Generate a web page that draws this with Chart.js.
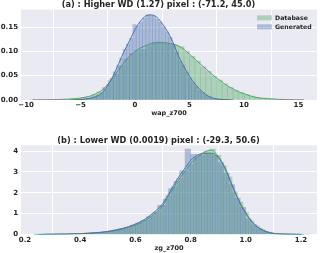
<!DOCTYPE html>
<html><head><meta charset="utf-8">
<script src="https://cdn.jsdelivr.net/npm/chart.js@4.4.1/dist/chart.umd.min.js"></script>
<style>
html,body{margin:0;padding:0;background:#fff;}
#wrap{position:relative;width:320px;height:253px;overflow:hidden;}
canvas{position:absolute;left:0;}
#ca{top:0;} #cb{top:126px;}
</style></head><body>
<div id="wrap"><canvas id="ca" width="320" height="126"></canvas><canvas id="cb" width="320" height="127"></canvas></div>
<script>
// ---------- Panel (a) data ----------
const titleA = '(a) : Higher WD (1.27) pixel : (-71.2, 45.0)';
const xLabelA = 'wap_z700';
const xTicksA = [-10, -5, 0, 5, 10, 15];
const xTickLabelsA = ['\u221210', '\u22125', '0', '5', '10', '15'];
const yTicksA = [0, 0.05, 0.10, 0.15];
const yTickLabelsA = ['0.00', '0.05', '0.10', '0.15'];
const dbBinsA = [-9.25,-8.75,-8.25,-7.75,-7.25,-6.75,-6.25,-5.75,-5.25,-4.75,-4.25,-3.75,-3.25,-2.75,-2.25,-1.75,-1.25,-0.75,-0.25,0.25,0.75,1.25,1.75,2.25,2.75,3.25,3.75,4.25,4.75,5.25,5.75,6.25,6.75,7.25,7.75,8.25,8.75,9.25,9.75,10.25,10.75,11.25,11.75,12.25,12.75,13.25,13.75,14.25,14.75,15.25];
const dbHistA = [0.0003,0.0004,0.0005,0.0006,0.0008,0.0011,0.0015,0.002,0.003,0.005,0.007,0.011,0.017,0.026,0.040,0.053,0.070,0.084,0.096,0.102,0.104,0.112,0.118,0.119,0.117,0.116,0.113,0.110,0.100,0.090,0.080,0.068,0.059,0.049,0.041,0.033,0.026,0.020,0.015,0.011,0.008,0.005,0.0035,0.0025,0.0018,0.0012,0.0008,0.0005,0.0003,0.0002];
const genBinsA = [-5.45,-5.15,-4.85,-4.55,-4.25,-3.95,-3.65,-3.35,-3.05,-2.75,-2.45,-2.15,-1.85,-1.55,-1.25,-0.95,-0.65,-0.35,-0.05,0.25,0.55,0.85,1.15,1.45,1.75,2.05,2.35,2.65,2.95,3.25,3.55,3.85,4.15,4.45,4.75,5.05,5.35,5.65,5.95,6.25,6.55,6.85,7.15,7.45,7.75,8.05,8.35,8.65];
const genHistA = [0.0005,0.001,0.0015,0.002,0.003,0.004,0.007,0.010,0.015,0.022,0.032,0.044,0.058,0.070,0.086,0.104,0.115,0.127,0.155,0.152,0.160,0.168,0.175,0.174,0.173,0.166,0.160,0.150,0.140,0.129,0.114,0.098,0.080,0.072,0.058,0.045,0.036,0.028,0.020,0.015,0.010,0.007,0.004,0.003,0.002,0.001,0.0007,0.0004];
const dbKdeXA = [-9.4,-8,-7,-6,-5,-4.5,-4,-3.5,-3,-2.5,-2,-1.5,-1,-0.5,0,0.5,1,1.5,2,2.5,3,3.5,4,4.5,5,5.5,6,6.5,7,7.5,8,8.5,9,9.5,10,10.5,11,11.5,12,13,14,15,15.5];
const dbKdeYA = [0.000,0.0005,0.001,0.002,0.004,0.006,0.009,0.014,0.021,0.032,0.046,0.062,0.077,0.090,0.100,0.107,0.112,0.116,0.118,0.118,0.117,0.115,0.111,0.104,0.094,0.084,0.074,0.064,0.054,0.045,0.037,0.029,0.023,0.017,0.013,0.009,0.006,0.004,0.003,0.0015,0.0007,0.0003,0.0002];
const genKdeXA = [-6,-5,-4,-3.5,-3,-2.5,-2,-1.5,-1,-0.5,0,0.5,1,1.5,2,2.5,3,3.5,4,4.5,5,5.5,6,6.5,7,7.5,8,9];
const genKdeYA = [0.000,0.001,0.004,0.008,0.015,0.030,0.050,0.075,0.100,0.122,0.145,0.162,0.173,0.175,0.170,0.157,0.140,0.118,0.090,0.068,0.049,0.033,0.021,0.011,0.005,0.002,0.001,0.000];

// ---------- Panel (b) data ----------
const titleB = '(b) : Lower WD (0.0019) pixel : (-29.3, 50.6)';
const xLabelB = 'zg_z700';
const xTicksB = [0.2, 0.4, 0.6, 0.8, 1.0, 1.2];
const xTickLabelsB = ['0.2', '0.4', '0.6', '0.8', '1.0', '1.2'];
const yTicksB = [0, 1, 2, 3, 4];
const yTickLabelsB = ['0', '1', '2', '3', '4'];
const dbBinsB = [0.24,0.26,0.28,0.30,0.32,0.34,0.36,0.38,0.40,0.42,0.44,0.46,0.48,0.50,0.52,0.54,0.56,0.58,0.60,0.62,0.64,0.66,0.68,0.70,0.72,0.74,0.76,0.78,0.80,0.82,0.84,0.86,0.88,0.90,0.92,0.94,0.96,0.98,1.00,1.02,1.04,1.06,1.08,1.10,1.12,1.14,1.16,1.18,1.20,1.22];
const dbHistB = [0.00,0.00,0.01,0.01,0.01,0.02,0.02,0.03,0.04,0.05,0.06,0.08,0.10,0.13,0.17,0.21,0.28,0.36,0.45,0.56,0.70,0.90,1.10,1.40,1.85,2.30,2.70,3.05,3.35,3.70,3.80,4.00,4.10,3.80,3.30,2.75,2.05,1.55,1.05,0.65,0.40,0.24,0.12,0.06,0.03,0.02,0.01,0.005,0.003,0.002];
const genBinsB = [0.25,0.27,0.29,0.31,0.33,0.35,0.37,0.39,0.41,0.43,0.45,0.47,0.49,0.51,0.53,0.55,0.57,0.59,0.61,0.63,0.65,0.67,0.69,0.71,0.73,0.75,0.77,0.79,0.81,0.83,0.85,0.87,0.89,0.91,0.93,0.95,0.97,0.99,1.01,1.03,1.05,1.07,1.09,1.11,1.13,1.15,1.17,1.19];
const genHistB = [0.00,0.01,0.01,0.01,0.02,0.02,0.03,0.04,0.05,0.06,0.08,0.10,0.13,0.16,0.22,0.30,0.32,0.42,0.55,0.68,0.85,1.05,1.40,1.70,2.20,2.55,3.05,4.10,3.85,3.85,3.90,3.85,3.80,3.45,2.95,2.40,1.75,1.30,0.75,0.48,0.28,0.14,0.07,0.03,0.015,0.01,0.005,0.002];
const dbKdeXB = [0.234,0.30,0.35,0.40,0.45,0.50,0.55,0.60,0.625,0.65,0.675,0.70,0.725,0.75,0.775,0.80,0.825,0.85,0.875,0.90,0.925,0.95,0.975,1.00,1.025,1.05,1.075,1.10,1.15,1.209];
const dbKdeYB = [0.00,0.01,0.02,0.04,0.07,0.13,0.25,0.45,0.60,0.80,1.05,1.40,1.95,2.50,2.95,3.40,3.70,3.95,4.05,3.75,3.20,2.40,1.65,1.05,0.58,0.30,0.14,0.06,0.015,0.00];
const genKdeXB = [0.25,0.35,0.40,0.45,0.50,0.55,0.60,0.625,0.65,0.675,0.70,0.725,0.75,0.775,0.80,0.825,0.85,0.875,0.90,0.925,0.95,0.975,1.00,1.025,1.05,1.075,1.10,1.15,1.20];
const genKdeYB = [0.00,0.02,0.04,0.08,0.15,0.28,0.50,0.66,0.88,1.15,1.50,2.05,2.62,3.10,3.55,3.80,3.90,3.90,3.70,3.15,2.35,1.60,1.00,0.55,0.28,0.13,0.05,0.012,0.00];

const seriesNames = ['Database', 'Generated'];

// ---------- styling ----------
const FONT = 'DejaVu Sans';
const TXT = '#262626';
const BG = '#EAEAF2';
const GREEN = '#55A868', BLUE = '#4C72B0';
const GREEN_A = 'rgba(85,168,104,0.4)', BLUE_A = 'rgba(76,114,176,0.4)';
Chart.defaults.font.family = FONT;
Chart.defaults.color = TXT;

const bgPlugin = {
  id: 'plotBg',
  beforeDraw(chart) {
    const {ctx, chartArea: a} = chart;
    ctx.save();
    ctx.fillStyle = BG;
    ctx.fillRect(a.left, a.top, a.right - a.left, a.bottom - a.top);
    ctx.restore();
  }
};

const innerLegend = {
  id: 'innerLegend',
  afterDraw(chart, args, opts) {
    if (!opts || !opts.show) return;
    const {ctx, chartArea: a} = chart;
    const items = chart.data.datasets.filter(d => d.type === 'bar')
      .sort((p, q) => seriesNames.indexOf(p.label) - seriesNames.indexOf(q.label));
    ctx.save();
    ctx.font = 'bold 6.2px "' + FONT + '"';
    ctx.textBaseline = 'middle';
    ctx.textAlign = 'left';
    items.forEach((d, i) => {
      const cy = a.top + 8.3 + i * 9;
      const px = a.right - 60;
      ctx.fillStyle = d.backgroundColor;
      ctx.fillRect(px, cy - 2.5, 15, 5);
      ctx.fillStyle = TXT;
      ctx.fillText(d.label, px + 18, cy + 0.3);
    });
    ctx.restore();
  }
};

function pts(xs, ys) { return xs.map((x, i) => ({x: x, y: ys[i]})); }

function makeChart(canvasId, p) {
  const tickFont = {family: FONT, size: 7, weight: 'bold'};
  return new Chart(document.getElementById(canvasId), {
    type: 'bar',
    data: {
      datasets: [
        {type: 'line', label: 'Generated KDE', data: pts(p.genKdeX, p.genKdeY), borderColor: BLUE, borderWidth: 1,
          pointRadius: 0, fill: false, cubicInterpolationMode: 'monotone', xAxisID: 'x', order: 0},
        {type: 'bar', label: seriesNames[1], data: pts(p.genBins, p.genHist), backgroundColor: BLUE_A, borderWidth: 0,
          barPercentage: 1, categoryPercentage: 1, grouped: false, xAxisID: 'x2', order: 1},
        {type: 'line', label: 'Database KDE', data: pts(p.dbKdeX, p.dbKdeY), borderColor: GREEN, borderWidth: 1,
          pointRadius: 0, fill: false, cubicInterpolationMode: 'monotone', xAxisID: 'x', order: 2},
        {type: 'bar', label: seriesNames[0], data: pts(p.dbBins, p.dbHist), backgroundColor: GREEN_A, borderWidth: 0,
          barPercentage: 1, categoryPercentage: 1, grouped: false, xAxisID: 'x', order: 3}
      ]
    },
    options: {
      responsive: false,
      animation: false,
      devicePixelRatio: 1,
      events: [],
      layout: {padding: {left: 0, right: 3, top: 0, bottom: 0}},
      plugins: {
        legend: {display: false},
        tooltip: {enabled: false},
        title: {display: true, text: p.title, color: TXT,
          font: {family: FONT, size: 8.2, weight: 'bold', lineHeight: 1.1},
          padding: {top: p.titleTop, bottom: 0}},
        innerLegend: {show: p.legend}
      },
      scales: {
        x: {
          type: 'linear', min: p.xmin, max: p.xmax, offset: false,
          afterBuildTicks: s => { s.ticks = p.xTicks.map(v => ({value: v})); },
          ticks: {font: tickFont, color: TXT, padding: 1, maxRotation: 0, autoSkip: false,
            callback: v => p.xTickLabels[p.xTicks.indexOf(v)]},
          grid: {color: '#ffffff', lineWidth: 1, drawTicks: false},
          border: {display: false},
          title: {display: true, text: p.xLabel, color: TXT,
            font: {family: FONT, size: 6.5, weight: 'bold', lineHeight: 1.2},
            padding: {top: 0, bottom: p.xTitlePad}},
          afterFit: s => { s.height = p.xAxisH; }
        },
        x2: {type: 'linear', min: p.xmin, max: p.xmax, offset: false, display: false},
        y: {
          type: 'linear', min: 0, max: p.ymax,
          afterBuildTicks: s => { s.ticks = p.yTicks.map(v => ({value: v})); },
          ticks: {font: tickFont, color: TXT, padding: 3,
            callback: v => p.yTickLabels[p.yTicks.indexOf(v)]},
          grid: {color: '#ffffff', lineWidth: 1, drawTicks: false},
          border: {display: false},
          afterFit: s => { s.width = 21; }
        }
      }
    },
    plugins: [bgPlugin, innerLegend]
  });
}

makeChart('ca', {
  title: titleA, titleTop: 0.5, xLabel: xLabelA, xTicks: xTicksA, xTickLabels: xTickLabelsA,
  yTicks: yTicksA, yTickLabels: yTickLabelsA, xmin: -10.47, xmax: 16.71, ymax: 0.186,
  xAxisH: 26, xTitlePad: 8.8, legend: true,
  dbBins: dbBinsA, dbHist: dbHistA, genBins: genBinsA, genHist: genHistA,
  dbKdeX: dbKdeXA, dbKdeY: dbKdeYA, genKdeX: genKdeXA, genKdeY: genKdeYA
});
makeChart('cb', {
  title: titleB, titleTop: 10.3, xLabel: xLabelB, xTicks: xTicksB, xTickLabels: xTickLabelsB,
  yTicks: yTicksB, yTickLabels: yTickLabelsB, xmin: 0.1855, xmax: 1.258, ymax: 4.28,
  xAxisH: 18.5, xTitlePad: 1.1, legend: false,
  dbBins: dbBinsB, dbHist: dbHistB, genBins: genBinsB, genHist: genHistB,
  dbKdeX: dbKdeXB, dbKdeY: dbKdeYB, genKdeX: genKdeXB, genKdeY: genKdeYB
});
</script>
</body></html>
